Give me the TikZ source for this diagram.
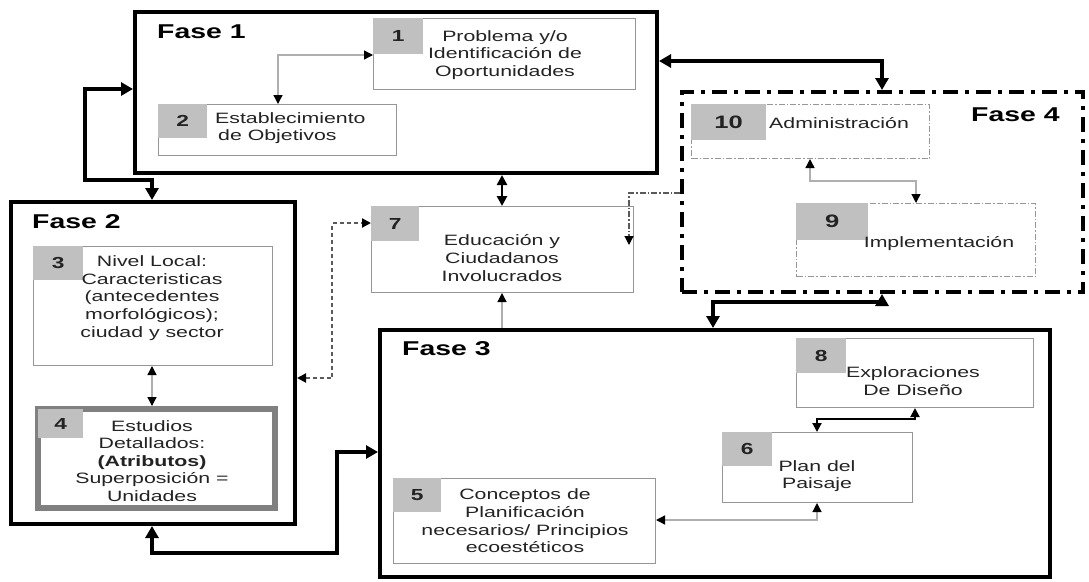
\documentclass[tikz,border=0pt]{standalone}
\usepackage{fontspec}
\setmainfont{Liberation Sans}[FakeStretch=1.42]
\usetikzlibrary{arrows.meta,calc}
\definecolor{tabgray}{RGB}{192,192,192}
\definecolor{boxgray}{RGB}{150,150,150}
\definecolor{txt}{RGB}{35,35,35}
\definecolor{linegray}{RGB}{175,175,175}
\definecolor{dashgray}{RGB}{90,90,90}
\tikzset{
  phase/.style={draw=black, line width=4pt, inner sep=0pt, anchor=north west},
  phasedd/.style={draw=black, line width=4pt, inner sep=0pt, anchor=north west,
     dash pattern=on 15pt off 7pt on 4pt off 7pt},
  box/.style={draw=boxgray, line width=1pt, fill=white, inner sep=0pt, anchor=north west},
  boxdd/.style={draw=boxgray, line width=1pt, fill=white, inner sep=0pt, anchor=north west,
     dash pattern=on 6pt off 2pt on 1.5pt off 2pt},
  tab/.style={fill=tabgray, inner sep=0pt, anchor=north west, text=txt,
     font=\fontsize{16}{18}\selectfont\bfseries},
  lbl/.style={font=\fontsize{15}{17.6}\selectfont, text=txt, align=center, inner sep=0pt},
  phaselbl/.style={font=\fontsize{20}{24}\selectfont\bfseries, inner sep=0pt, anchor=west},
  Tb/.tip={Triangle[length=12pt,width=13pt,color=black]},
  Tm/.tip={Triangle[length=10pt,width=10pt,color=black]},
  Ts/.tip={Triangle[length=9pt,width=9pt,color=black]},
  bigconn/.style={draw=black, line width=4pt, Tb-Tb},
  medconn/.style={draw=black, line width=2.5pt, Tm-Tm},
  thinconn/.style={draw=linegray, line width=1.3pt, Ts-Ts},
}
\begin{document}
\begin{tikzpicture}[x=1pt,y=-1pt]
\useasboundingbox (0,0) rectangle (1089,581);
% ---------- phase frames ----------
\node[phase, minimum width=522pt, minimum height=161pt] (f1) at (133,10) {};
\node[phase, minimum width=284pt, minimum height=322pt] (f2) at (9,200) {};
\node[phase, minimum width=670pt, minimum height=247pt] (f3) at (378,328) {};
\node[phasedd, minimum width=401pt, minimum height=200pt] (f4) at (680,90) {};
\node[phaselbl] (l1) at (157,32) {Fase 1};
\node[phaselbl] (l2) at (32,222) {Fase 2};
\node[phaselbl] (l3) at (402,349) {Fase 3};
\node[phaselbl] (l4) at (971,115) {Fase 4};
% ---------- boxes ----------
\node[box, minimum width=262pt, minimum height=71pt] (b1) at (373,18) {};
\node[tab, minimum width=50pt, minimum height=36pt] (n1) at (b1.north west) {1};
\node[lbl] (t1) at (505,55) {Problema y/o\\Identificación de\\Oportunidades};

\node[box, minimum width=238pt, minimum height=51pt] (b2) at (158,104) {};
\node[tab, minimum width=49pt, minimum height=34pt] (n2) at (b2.north west) {2};
\node[lbl, align=left, anchor=west] (t2) at (215,128) {Establecimiento\\\hspace*{3pt}de Objetivos};

\node[box, minimum width=239pt, minimum height=119pt] (b3) at (33,246) {};
\node[tab, minimum width=50pt, minimum height=34pt] (n3) at (b3.north west) {3};
\node[lbl] (t3) at (152,298) {Nivel Local:\\Caracteristicas\\(antecedentes\\morfológicos);\\ciudad y sector};

\node[box, draw={rgb,255:red,128;green,128;blue,128}, line width=6pt, minimum width=237pt, minimum height=99pt] (b4) at (35,406) {};
\node[tab, minimum width=45pt, minimum height=29pt] (n4) at (38,409) {4};
\node[lbl] (t4) at (152,461) {Estudios\\Detallados:\\\textbf{(Atributos)}\\Superposición =\\Unidades};

\node[box, minimum width=262pt, minimum height=85pt] (b5) at (393,478) {};
\node[tab, minimum width=48pt, minimum height=34pt] (n5) at (b5.north west) {5};
\node[lbl] (t5) at (525,521) {Conceptos de\\Planificación\\necesarios/ Principios\\ecoestéticos};

\node[box, minimum width=190pt, minimum height=70pt] (b6) at (722,432) {};
\node[tab, minimum width=50pt, minimum height=34pt] (n6) at (b6.north west) {6};
\node[lbl] (t6) at (817,476) {Plan del\\Paisaje};

\node[box, minimum width=262pt, minimum height=86pt] (b7) at (371,206) {};
\node[tab, minimum width=48pt, minimum height=35pt] (n7) at (b7.north west) {7};
\node[lbl] (t7) at (502,258) {Educación y\\Ciudadanos\\Involucrados};

\node[box, minimum width=237pt, minimum height=69pt] (b8) at (796,338) {};
\node[tab, minimum width=50pt, minimum height=35pt] (n8) at (b8.north west) {8};
\node[lbl] (t8) at (913,381) {Exploraciones\\De Diseño};

\node[boxdd, minimum width=239pt, minimum height=73pt] (b9) at (796,203) {};
\node[tab, font=\fontsize{18}{20}\selectfont\bfseries, minimum width=72pt, minimum height=37pt] (n9) at (b9.north west) {9};
\node[lbl] (t9) at (939,244) {Implementación};

\node[boxdd, minimum width=238pt, minimum height=54pt] (b10) at (691,104) {};
\node[tab, font=\fontsize{18}{20}\selectfont\bfseries, minimum width=75pt, minimum height=36pt] (n10) at (b10.north west) {10};
\node[lbl, anchor=west] (t10) at (769,123) {Administración};
% ---------- corner coordinates ----------
\coordinate (k12) at (278,55);
\coordinate (k1a) at (85,89);
\coordinate (k1b) at (152,180);
\coordinate (k14) at (882,61);
\coordinate (k17) at (502,190);
\coordinate (k27a) at (332,378);
\coordinate (k27b) at (332,223);
\coordinate (k47) at (629,193);
\coordinate (k47e) at (629,245);
\coordinate (k23a) at (152,553);
\coordinate (k23b) at (337,452);
\coordinate (k34a) at (882,302);
\coordinate (k34b) at (713,302);
\coordinate (k109a) at (810,181);
\coordinate (k109b) at (916,181);
\coordinate (k68a) at (915,419);
\coordinate (k68b) at (817,419);
\coordinate (k65) at (817,520);
\coordinate (k3x) at (152,384);
% ---------- connectors ----------
\draw[thinconn] (b1.west |- k12) -- (k12) -- (k12 |- b2.north);
\draw[bigconn] (f1.west |- k1a) -- (k1a) -- (k1a |- k1b) -- (k1b) -- (k1b |- f2.north);
\draw[bigconn] (f1.east |- k14) -- (k14) -- (k14 |- f4.north);
\draw[medconn] (k17 |- f1.south) -- (k17 |- b7.north);
\draw[thinconn, -Ts] (k17 |- f3.north) -- (k17 |- b7.south);
\draw[draw=dashgray, line width=2pt, dash pattern=on 4pt off 3pt, Ts-Ts] (f2.east |- k27a) -- (k27a) -- (k27b) -- (b7.west |- k27b);
\draw[draw=dashgray, line width=1.2pt, dash pattern=on 6pt off 2pt on 1.5pt off 2pt, -Ts] (f4.west |- k47) -- (k47) -- (k47e);
\draw[bigconn] (k23a |- f2.south) -- (k23a) -- (k23b |- k23a) -- (k23b) -- (f3.west |- k23b);
\draw[bigconn] (k34a |- f4.south) -- (k34a) -- (k34b) -- (k34b |- f3.north);
\draw[thinconn] (k109a |- b10.south) -- (k109a) -- (k109b) -- (k109b |- b9.north);
\draw[draw=black, line width=2pt, Ts-Ts] (k68a |- b8.south) -- (k68a) -- (k68b) -- (k68b |- b6.north);
\draw[thinconn] (k65 |- b6.south) -- (k65) -- (b5.east |- k65);
\draw[thinconn] (k3x |- b3.south) -- (k3x |- b4.north);
\end{tikzpicture}
\end{document}
